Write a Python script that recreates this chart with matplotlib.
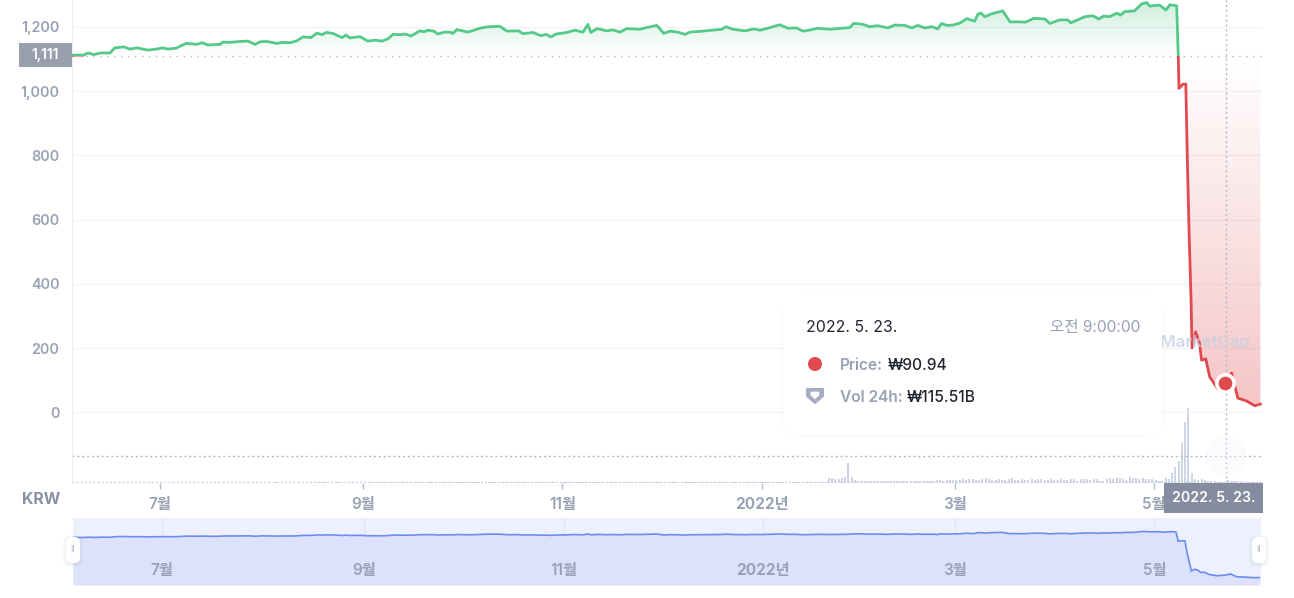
import numpy as np
import pandas as pd
import matplotlib
matplotlib.use("Agg")
import matplotlib.pyplot as plt
from matplotlib.path import Path
from matplotlib.patches import FancyBboxPatch, PathPatch, Circle, Rectangle, Polygon

plt.rcParams['font.family'] = ['Inter', 'Noto Sans CJK KR', 'DejaVu Sans']

# ---------- data ----------
start_date = pd.Timestamp('2021-06-04')
price_day = [0, 2.4, 3.4, 4.9, 6.7, 8.6, 11.6, 13.1, 15.9, 17.7, 19.9, 23.2, 26.3, 27.8, 29.4, 31.8, 34.9, 38.2, 39.8, 41.6,
             45.3, 46.2, 48.3, 51.4, 53.8, 56, 57.5, 59.6, 62.7, 64.5, 66.7, 68.8, 70.6, 73.1, 74.9, 76.5, 77.7, 79.8, 82.6, 83.8,
             85, 88.1, 90.5, 92.7, 94.8, 96.6, 98.2, 100.3, 101.8, 103.7, 106.4, 107.6, 108.9, 110.7, 111.9, 113.8, 115.6, 116.5, 117.7, 121.1,
             124.8, 126.9, 130, 130.9, 133, 136.7, 137.9, 141, 143.4, 145, 146.5, 148, 151.4, 153.8, 156.3, 157.8, 158.7, 160.6, 163.6, 165.4,
             167.6, 169.7, 173.7, 176.1, 178.9, 181, 182.9, 185.3, 187.5, 189, 192.7, 198.8, 200, 202.1, 205.8, 208.6, 210.4, 212.8, 216.5, 219,
             221.7, 223.5, 226, 228.1, 231.8, 236.4, 237.9, 239.1, 241.6, 244, 246.5, 249.5, 251.7, 254.7, 256.9, 258.7, 260.9, 263, 264.8, 266,
             267.6, 269.4, 271.6, 273.7, 276.1, 277.1, 278, 279.2, 281.3, 284.7, 286.9, 289.9, 291.7, 294.2, 297.6, 299.1, 302.1, 304.6, 305.5, 307.6,
             309.8, 312.2, 314.1, 315.6, 317.4, 319.6, 320.8, 322, 325, 327.2, 328.7, 329.7, 332.7, 334.6, 335.8, 337.9, 338.4, 338.6, 339.8, 340.7,
             341.1, 341.7, 342.3, 342.6, 343.7, 344.9, 345.5, 346.8, 348, 350.5, 353, 354.7, 356.6, 359.2, 361.8, 363.5]
price_krw = [1112, 1113, 1112, 1119, 1114, 1119, 1119, 1135, 1138, 1131, 1135, 1128, 1132, 1135, 1131, 1134, 1149, 1146, 1151, 1144,
             1146, 1153, 1152, 1155, 1156, 1146, 1154, 1155, 1149, 1152, 1151, 1157, 1169, 1167, 1181, 1176, 1183, 1180, 1167, 1175,
             1166, 1170, 1156, 1159, 1156, 1163, 1177, 1176, 1178, 1172, 1188, 1185, 1190, 1187, 1178, 1184, 1184, 1180, 1192, 1184,
             1196, 1200, 1202, 1202, 1187, 1188, 1179, 1183, 1173, 1177, 1169, 1178, 1183, 1190, 1184, 1208, 1183, 1195, 1188, 1191,
             1184, 1195, 1193, 1199, 1205, 1180, 1187, 1184, 1177, 1184, 1187, 1193, 1201, 1193, 1188, 1194, 1190, 1196, 1207, 1196,
             1197, 1187, 1191, 1196, 1193, 1197, 1198, 1211, 1209, 1201, 1204, 1197, 1206, 1205, 1197, 1205, 1197, 1201, 1194, 1211,
             1205, 1206, 1212, 1226, 1218, 1240, 1243, 1232, 1241, 1250, 1216, 1216, 1215, 1227, 1225, 1211, 1222, 1222, 1213, 1222,
             1232, 1235, 1225, 1234, 1232, 1243, 1237, 1248, 1250, 1272, 1276, 1265, 1268, 1253, 1269, 1266, 1107, 1009, 1022, 1022,
             817, 559, 350, 201, 251, 216, 163, 167, 111, 73, 90.94, 123, 45, 36, 21, 26]

vol_jun = [20] * 27
vol_jul = [20] * 31
vol_aug = [20, 20, 20, 20, 25, 20, 20, 20, 20, 20, 20, 20, 20, 20, 20, 20, 50, 50, 50, 25, 20, 20, 20, 45, 20, 20, 20, 20, 20, 20, 20]
vol_sep = [20, 20, 25, 25, 30, 50, 50, 45, 50, 50, 45, 40, 30, 30, 25, 25, 30, 25, 25, 25, 30, 30, 25, 25, 25, 30, 25, 25, 25, 25]
vol_oct = [25, 25, 30, 25, 25, 25, 30, 30, 25, 25, 25, 30, 25, 25, 30, 25, 25, 25, 25, 30, 25, 25, 25, 25, 30, 25, 25, 25, 25, 25, 25]
vol_nov = [25, 25, 25, 30, 25, 25, 25, 25, 30, 25, 25, 25, 25, 30, 25, 25, 25, 25, 25, 25, 30, 25, 25, 25, 25, 25, 25, 25, 25, 25]
vol_dec = [25] * 31
vol_jan = [25, 25, 45, 50, 55, 50, 45, 50, 45, 30, 30, 35, 30, 30, 35, 30, 40, 40, 60, 60, 230, 230, 180, 180, 230, 280, 920, 280, 140, 90, 90]
vol_feb = [90, 80, 70, 90, 90, 70, 80, 90, 70, 70, 80, 90, 70, 70, 90, 90, 80, 80, 90, 70, 70, 70, 130, 130, 90, 130, 130, 140]
vol_mar = [130, 140, 180, 130, 180, 180, 140, 130, 180, 220, 180, 130, 130, 180, 130, 140, 180, 220, 130, 130, 180, 130, 140, 180, 130, 180, 180, 130, 130, 180, 130]
vol_apr = [130, 180, 130, 130, 180, 180, 90, 180, 180, 180, 130, 180, 180, 80, 90, 180, 230, 180, 230, 230, 180, 150, 260, 230, 230, 180, 220, 200, 180, 180]
vol_may = [120, 100, 100, 230, 180, 460, 740, 1010, 1840, 2800, 3450, 460, 180, 140, 180, 140, 90, 90, 70, 60, 50, 50, 115.51, 100, 90, 80, 70, 60, 60, 60, 60]
vol_jun2 = [60, 60, 50]
volume_b = vol_jun + vol_jul + vol_aug + vol_sep + vol_oct + vol_nov + vol_dec + vol_jan + vol_feb + vol_mar + vol_apr + vol_may + vol_jun2

y_ticks = [0, 200, 400, 600, 800, 1000, 1200]
y_labels = ['0', '200', '400', '600', '800', '1,000', '1,200']
tick_dates = ['2021-07-01', '2021-09-01', '2021-11-01', '2022-01-01', '2022-03-01', '2022-05-01']
tick_labels = ['7월', '9월', '11월', '2022년', '3월', '5월']
baseline_price = 1111
hover_date = '2022-05-23'
hover_price = 90.94
cross_price = -135

# ---------- helpers ----------
W, H = 1294, 598
day = np.array(price_day)
price = np.array(price_krw)
vol = np.array(volume_b)
tick_days = [(pd.Timestamp(d) - start_date).days for d in tick_dates]
hover_day = (pd.Timestamp(hover_date) - start_date).days
GRAY = '#9aa1b5'
GREEN = '#55c98a'
RED = '#e04a4f'

def px_axes(l, t, r, b):
    return [l / W, (H - b) / H, (r - l) / W, (b - t) / H]

fig = plt.figure(figsize=(W / 100, H / 100), dpi=100, facecolor='white')

# ---------- volume ----------
ax_v = fig.add_axes(px_axes(72, 0, 1262, 483), zorder=1)
ax_v.bar(np.arange(len(vol)) + 0.5, vol, width=0.62, color='#ced4e4')
ax_v.set_xlim(0, 364)
ax_v.set_ylim(0, 46 * 483)
ax_v.axis('off')

# ---------- main price ----------
ax = fig.add_axes(px_axes(72, 0, 1262, 483), zorder=2)
ax.patch.set_alpha(0)
XL, YL = (0, 364), (-219.5, 1284)

def gradient(mask_where, color, a_top, a_bot, y_low, y_high):
    poly = ax.fill_between(day, price, baseline_price, where=mask_where, interpolate=True, alpha=0)
    rgba = np.zeros((256, 2, 4))
    rgba[..., :3] = matplotlib.colors.to_rgb(color)
    rgba[..., 3] = np.linspace(a_top, a_bot, 256)[:, None]
    im = ax.imshow(rgba, extent=(day[0], day[-1], y_low, y_high), origin='upper', aspect='auto', zorder=1, interpolation='bilinear')
    patch = PathPatch(Path.make_compound_path(*poly.get_paths()), transform=ax.transData, fc='none', ec='none')
    ax.add_patch(patch)
    im.set_clip_path(patch)

gradient(price >= baseline_price, '#50c285', 0.27, 0.0, baseline_price, price.max())
gradient(price <= baseline_price, RED, 0.0, 0.32, price.min(), baseline_price)

for t in y_ticks:
    ax.axhline(t, color='#f2f3f6', lw=1, zorder=0.5)

ax.axhline(baseline_price, color='#b4b6bd', lw=1, ls=(0, (1, 4)), zorder=2)
ax.axhline(cross_price, color='#b3b9ca', lw=1, ls=(0, (1.5, 2)), zorder=2)
ax.axvline(hover_day, color='#b3b9ca', lw=1, ls=(0, (1.5, 2)), zorder=2)

for col, lo, hi in [(GREEN, baseline_price, 3000), (RED, -3000, baseline_price)]:
    ln, = ax.plot(day, price, color=col, lw=2.0, solid_joinstyle='round', zorder=3)
    ln.set_clip_path(Rectangle((-10, lo), 400, hi - lo, transform=ax.transData))

ax.plot([hover_day - 0.3], [hover_price], 'o', ms=12.5, mfc=RED, mec='white', mew=2.6, zorder=4)

ax.set_xlim(*XL)
ax.set_ylim(*YL)
ax.set_yticks(y_ticks, y_labels)
ax.set_xticks(tick_days, tick_labels)
ax.tick_params(axis='y', length=0, pad=9, labelsize=10.3, labelcolor=GRAY)
ax.tick_params(axis='x', length=4, width=1, color='#b3b9ca', pad=6, labelsize=11, labelcolor=GRAY)
for lab in ax.get_xticklabels() + ax.get_yticklabels():
    lab.set_fontweight('semibold')
for lab in ax.get_xticklabels():
    if '년' in lab.get_text():
        lab.set_fontweight('bold')
for s in ['top', 'right', 'bottom']:
    ax.spines[s].set_visible(False)
ax.spines['left'].set_color('#eceef2')
ax.axhline(YL[0] + 0.5 / 0.32125, color='#ccd1e0', lw=1, ls=(0, (1.5, 1.5)), zorder=2)

# ---------- overview ----------
ax_o = fig.add_axes(px_axes(73, 518, 1261, 585), zorder=2)
ax_o.set_facecolor('#eef1fd')
ax_o.fill_between(day, price, -177, color='#dce2fb', lw=0)
ax_o.plot(day, price, color='#6d8cf2', lw=1.2)
for d, lab in zip(tick_days, tick_labels):
    ax_o.axvline(d + 0.3, color='#e0e4f9', lw=1, zorder=1)
    ax_o.text(d + 0.3, 0.22, lab, transform=ax_o.get_xaxis_transform(), ha='center', va='center', fontsize=11,
              color=GRAY, fontweight='bold' if '년' in lab else 'semibold')
ax_o.set_xlim(0, 364)
ax_o.set_ylim(-177, 1640)
ax_o.set_xticks([]); ax_o.set_yticks([])
for s in ax_o.spines.values():
    s.set_visible(False)

# ---------- overlay ----------
ov = fig.add_axes([0, 0, 1, 1], zorder=5)
ov.set_xlim(0, W); ov.set_ylim(H, 0)
ov.axis('off')

ov.add_patch(Circle((1226, 456), 20, fc='#f4f5f8', ec='none', alpha=0.4, zorder=1))
ov.text(1250, 342, 'CoinMarketCap', ha='right', va='center', fontsize=12, fontweight='bold', color='#c8cfe0', alpha=0.75, zorder=1)

ov.add_patch(Rectangle((19, 43), 53, 24, fc='#9a9fae', ec='none'))
ov.text(45, 55, '1,111', ha='center', va='center', fontsize=10, color='white', fontweight='semibold')
ov.add_patch(Rectangle((1164, 483), 99, 30, fc='#858c9f', ec='none', zorder=2))
ov.text(1213.5, 498, '2022. 5. 23.', ha='center', va='center', fontsize=10.2, color='white', fontweight='semibold', zorder=3)
ov.text(41, 500, 'KRW', ha='center', va='center', fontsize=11.5, color='#8a91a5', fontweight='bold')

# tooltip
for grow, alpha in [(16, 0.012), (12, 0.015), (8, 0.018), (4, 0.02), (2, 0.02)]:
    ov.add_patch(FancyBboxPatch((796 - grow, 308 - grow + 2), 354 + 2 * grow, 114 + 2 * grow,
                                boxstyle='round,pad=0,rounding_size=%d' % (12 + grow), fc='#5a6480', ec='none', alpha=alpha, zorder=2))
ov.add_patch(FancyBboxPatch((784, 296), 378, 138, boxstyle='round,pad=0,rounding_size=12', fc='white', ec='none', zorder=3))
ov.text(806, 327.5, '2022. 5. 23.', va='center', fontsize=11.4, color='#222531', zorder=4)
ov.text(1140, 327.5, '오전 9:00:00', va='center', ha='right', fontsize=11.2, color=GRAY, zorder=4)
ov.add_patch(Circle((815, 364), 7, fc=RED, ec='none', zorder=4))
ov.add_patch(Polygon([(807, 389), (823, 389), (823, 396), (815, 403), (807, 396)], closed=True, fc='#a6adc2', ec='#a6adc2', lw=1.5, joinstyle='round', zorder=4))
ov.add_patch(Polygon([(811, 392), (819, 392), (819, 395), (815, 399), (811, 395)], closed=True, fc='white', ec='white', lw=0.5, zorder=5))
ov.text(840, 365.5, 'Price:', va='center', fontsize=11.2, color=GRAY, fontweight='semibold', zorder=4)
ov.text(888, 365.5, '₩90.94', va='center', fontsize=11.2, color='#222531', fontweight='medium', zorder=4)
ov.text(840, 397.5, 'Vol 24h:', va='center', fontsize=11.2, color=GRAY, fontweight='semibold', zorder=4)
ov.text(907, 397.5, '₩115.51B', va='center', fontsize=11.2, color='#222531', fontweight='medium', zorder=4)

# overview handles
for cx in [73, 1259]:
    for grow, alpha in [(3, 0.03), (1.5, 0.05)]:
        ov.add_patch(FancyBboxPatch((cx - 7 - grow, 537 - grow + 1), 14 + 2 * grow, 26 + 2 * grow,
                                    boxstyle='round,pad=0,rounding_size=6', fc='#5a6480', ec='none', alpha=alpha, zorder=3))
    ov.add_patch(FancyBboxPatch((cx - 7, 537), 14, 26, boxstyle='round,pad=0,rounding_size=6', fc='white', ec='none', zorder=4))
    ov.text(cx, 549.5, 'II', ha='center', va='center', fontsize=6.5, color='#b5bbcb', zorder=5)

fig.savefig('out.png', dpi=100, facecolor='white')
